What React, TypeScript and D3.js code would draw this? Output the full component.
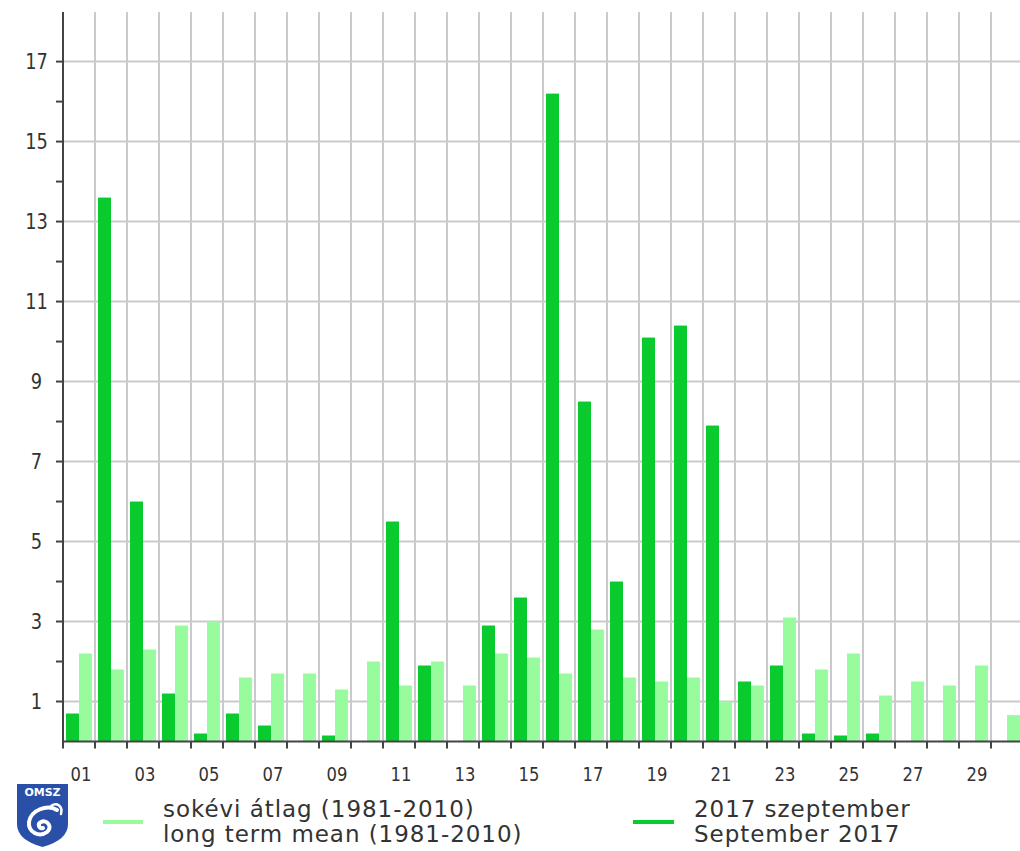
import { useEffect, useRef } from "react";
import * as d3 from "d3";

// daily precipitation, September 2017 (mm)
const days = d3.range(1, 31);
const september2017 = [
  0.7, 13.6, 6.0, 1.2, 0.2, 0.7, 0.4, 0, 0.15, 0,
  5.5, 1.9, 0, 2.9, 3.6, 16.2, 8.5, 4.0, 10.1, 10.4,
  7.9, 1.5, 1.9, 0.2, 0.15, 0.2, 0, 0, 0, 0,
];
const longTermMean = [
  2.2, 1.8, 2.3, 2.9, 3.0, 1.6, 1.7, 1.7, 1.3, 2.0,
  1.4, 2.0, 1.4, 2.2, 2.1, 1.7, 2.8, 1.6, 1.5, 1.6,
  1.0, 1.4, 3.1, 1.8, 2.2, 1.15, 1.5, 1.4, 1.9, 0.66,
];
const yTicks = [1, 3, 5, 7, 9, 11, 13, 15, 17];
const yMinorTicks = [2, 4, 6, 8, 10, 12, 14, 16];
const seriesKeys = ["current", "mean"];
const legendMean = ["sokévi átlag (1981-2010)", "long term mean (1981-2010)"];
const legendCurrent = ["2017 szeptember", "September 2017"];

const DARK = "#0acb2e";
const LIGHT = "#98fb9e";
const FONT = "DejaVu Sans, Verdana, sans-serif";

const App = () => {
  const ref = useRef<SVGSVGElement>(null);

  useEffect(() => {
    const width = 1020;
    const height = 851;
    const margin = { top: 12, left: 63, bottom: 109.5 };
    const plotBottom = height - margin.bottom;

    const svg = d3.select(ref.current).attr("width", width).attr("height", height);
    svg.selectAll("*").remove();

    const x = d3
      .scaleBand<number>()
      .domain(days)
      .range([margin.left, margin.left + days.length * 32]);

    const xInner = d3
      .scaleBand<string>()
      .domain(seriesKeys)
      .range([3, 29]);

    const y = d3.scaleLinear().domain([0, 18.24]).range([plotBottom, margin.top]);

    // grid
    const boundaries = days.map((d) => x(d) as number).concat([margin.left + days.length * 32]);
    svg
      .append("g")
      .selectAll("line")
      .data(boundaries.slice(1))
      .enter()
      .append("line")
      .attr("x1", (d) => d)
      .attr("x2", (d) => d)
      .attr("y1", margin.top)
      .attr("y2", plotBottom)
      .attr("stroke", "#cacaca")
      .attr("stroke-width", 2);

    svg
      .append("g")
      .selectAll("line")
      .data(yTicks)
      .enter()
      .append("line")
      .attr("x1", margin.left)
      .attr("x2", width)
      .attr("y1", (d) => y(d))
      .attr("y2", (d) => y(d))
      .attr("stroke", "#cacaca")
      .attr("stroke-width", 2);

    // bars
    const rows = days.map((d, i) => ({ day: d, current: september2017[i], mean: longTermMean[i] }));

    const dayGroups = svg
      .append("g")
      .selectAll("g")
      .data(rows)
      .enter()
      .append("g")
      .attr("transform", (d) => `translate(${x(d.day)},0)`);

    dayGroups
      .selectAll("rect")
      .data((d) => seriesKeys.map((k) => ({ key: k, value: (d as any)[k] as number })))
      .enter()
      .append("rect")
      .attr("x", (d) => xInner(d.key) as number)
      .attr("width", xInner.bandwidth())
      .attr("y", (d) => y(d.value))
      .attr("height", (d) => plotBottom - y(d.value))
      .attr("fill", (d) => (d.key === "current" ? DARK : LIGHT));

    // axes
    svg
      .append("line")
      .attr("x1", margin.left)
      .attr("x2", margin.left)
      .attr("y1", margin.top)
      .attr("y2", plotBottom + 1)
      .attr("stroke", "#444")
      .attr("stroke-width", 2);

    svg
      .append("line")
      .attr("x1", margin.left)
      .attr("x2", width)
      .attr("y1", plotBottom)
      .attr("y2", plotBottom)
      .attr("stroke", "#444")
      .attr("stroke-width", 2);

    svg
      .append("g")
      .selectAll("line")
      .data(yTicks.concat(yMinorTicks))
      .enter()
      .append("line")
      .attr("x1", margin.left - 7)
      .attr("x2", margin.left)
      .attr("y1", (d) => y(d))
      .attr("y2", (d) => y(d))
      .attr("stroke", "#444")
      .attr("stroke-width", 2);

    // tick labels are a narrow face in the original: squeeze DejaVu horizontally
    svg
      .append("g")
      .selectAll("text")
      .data(yTicks)
      .enter()
      .append("text")
      .attr("transform", (d) => `translate(36.5,${y(d)}) scale(0.85,1)`)
      .attr("dy", "0.36em")
      .attr("text-anchor", "middle")
      .attr("font-family", FONT)
      .attr("font-size", 21)
      .attr("fill", "#333")
      .text((d) => d);

    svg
      .append("g")
      .selectAll("line")
      .data(boundaries)
      .enter()
      .append("line")
      .attr("x1", (d) => d)
      .attr("x2", (d) => d)
      .attr("y1", plotBottom)
      .attr("y2", plotBottom + 7)
      .attr("stroke", "#444")
      .attr("stroke-width", 2);

    svg
      .append("g")
      .selectAll("text")
      .data(days.filter((d) => d % 2 === 1))
      .enter()
      .append("text")
      .attr("transform", (d) => `translate(${(x(d) as number) + x.bandwidth() / 2 + 2},781) scale(0.82,1)`)
      .attr("text-anchor", "middle")
      .attr("font-family", FONT)
      .attr("font-size", 20)
      .attr("fill", "#333")
      .text((d) => d3.format("02d")(d));

    // OMSZ logo
    const logo = svg.append("g").attr("transform", "translate(17,784)");
    logo
      .append("path")
      .attr("d", "M0,0 H51 V40 Q51,56 25.5,63 Q0,56 0,40 Z")
      .attr("fill", "#2a4fa6");
    logo
      .append("text")
      .attr("x", 25.5)
      .attr("y", 12)
      .attr("text-anchor", "middle")
      .attr("font-family", FONT)
      .attr("font-weight", "bold")
      .attr("font-size", 11)
      .attr("fill", "#fff")
      .text("OMSZ");
    logo
      .append("path")
      .attr("d", "M40,26 C30,20 14,26 12,38 C11,48 22,54 30,48 C36,43 30,35 24,38 C20,40 22,45 26,44")
      .attr("fill", "none")
      .attr("stroke", "#fff")
      .attr("stroke-width", 4)
      .attr("stroke-linecap", "round");
    logo
      .append("path")
      .attr("d", "M34,22 C40,18 46,22 44,30")
      .attr("fill", "none")
      .attr("stroke", "#fff")
      .attr("stroke-width", 2.5)
      .attr("stroke-linecap", "round");

    // legend
    const legendItems = [
      { lines: legendMean, color: LIGHT, x0: 103, x1: 143, tx: 163 },
      { lines: legendCurrent, color: DARK, x0: 633, x1: 674, tx: 694 },
    ];

    legendItems.forEach((item) => {
      svg
        .append("line")
        .attr("x1", item.x0)
        .attr("x2", item.x1)
        .attr("y1", 822)
        .attr("y2", 822)
        .attr("stroke", item.color)
        .attr("stroke-width", 4);

      svg
        .append("g")
        .selectAll("text")
        .data(item.lines)
        .enter()
        .append("text")
        .attr("x", item.tx)
        .attr("y", (d, i) => 816.5 + i * 25)
        .attr("font-family", FONT)
        .attr("font-size", 23)
        .attr("letter-spacing", 0.95)
        .attr("fill", "#333")
        .text((d) => d);
    });
  }, []);

  return (
    <div>
      <svg ref={ref} style={{ display: "block", position: "absolute", left: 0, top: 0 }} />
    </div>
  );
};

export default App;
